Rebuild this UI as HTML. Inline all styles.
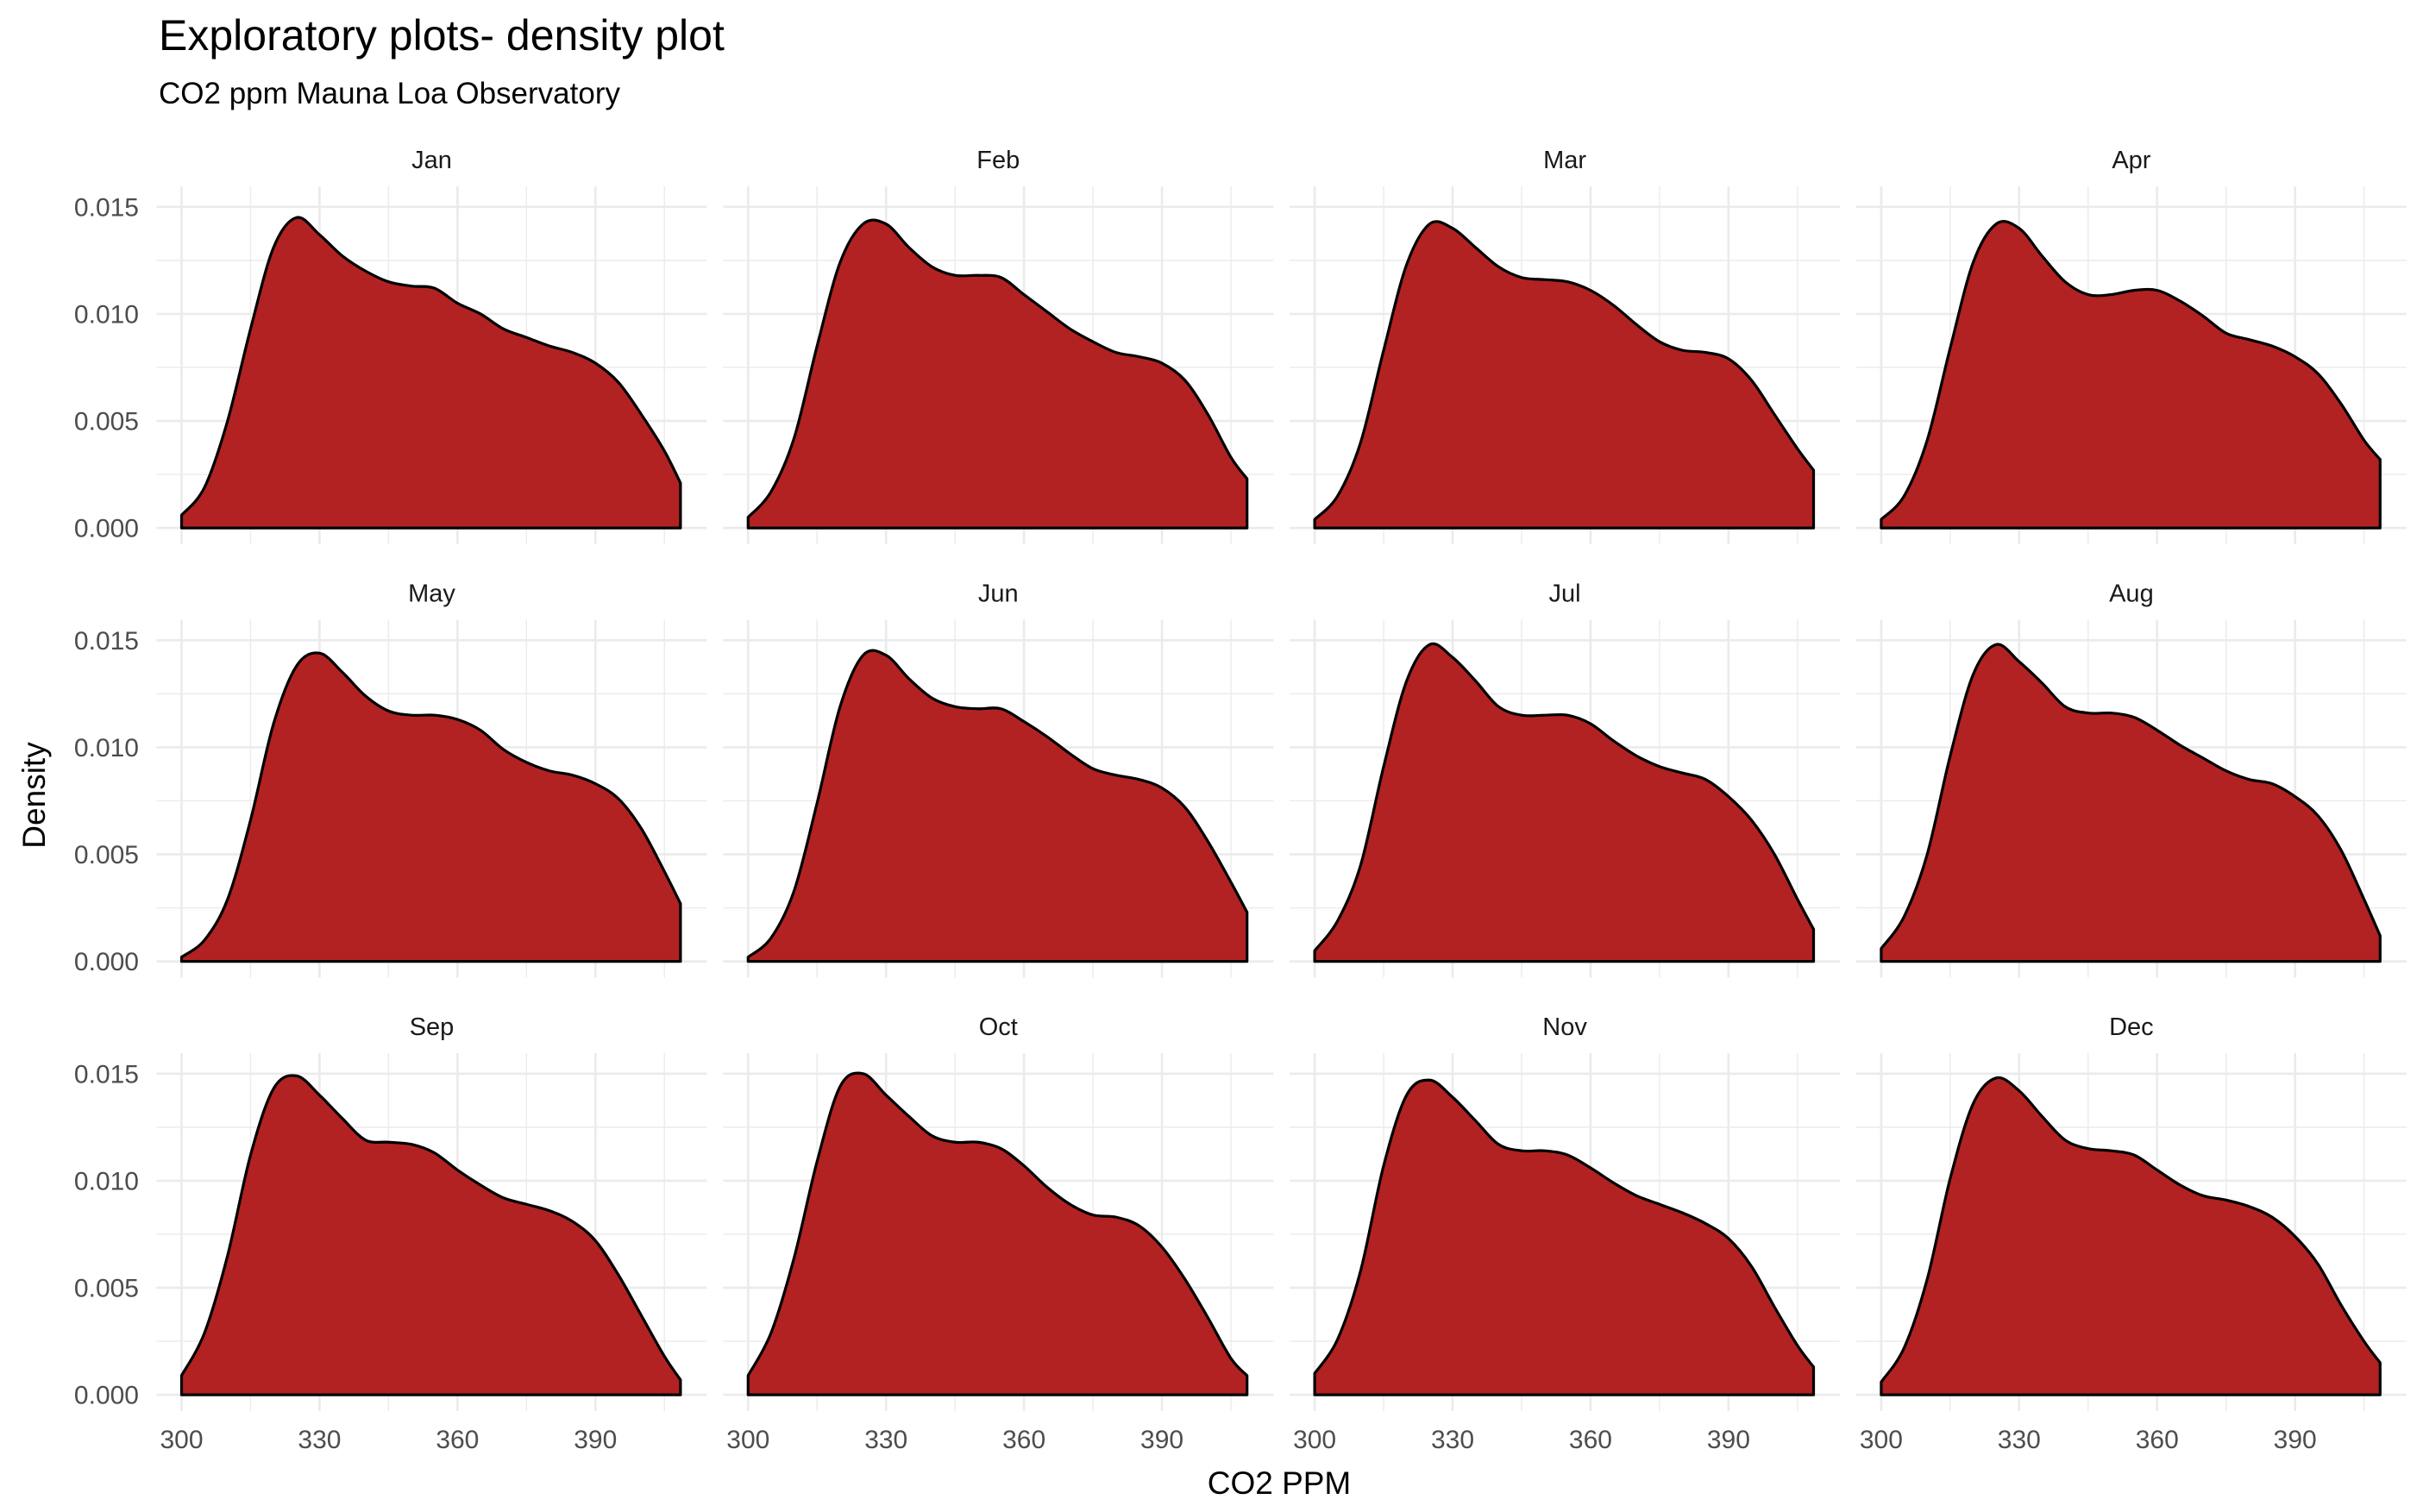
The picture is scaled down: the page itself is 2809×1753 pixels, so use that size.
<!DOCTYPE html>
<html><head><meta charset="utf-8"><title>Exploratory plots- density plot</title>
<style>html,body{margin:0;padding:0;background:#fff;}svg{display:block;font-family:"Liberation Sans",Arial,sans-serif;}</style>
</head><body>
<svg id="chart" xmlns="http://www.w3.org/2000/svg" width="2809" height="1753" viewBox="0 0 2809 1753">
<rect width="2809" height="1753" fill="#fff"/>
<text x="184" y="58" font-size="50" fill="#000">Exploratory plots- density plot</text>
<text x="184" y="120" font-size="35" fill="#000">CO2 ppm Mauna Loa Observatory</text>
<text x="1483" y="1732" font-size="37" text-anchor="middle" fill="#000">CO2 PPM</text>
<text x="0" y="0" font-size="37" text-anchor="middle" fill="#000" transform="translate(52,922) rotate(-90)">Density</text>
<g id="panels"></g>
</svg>
<script>
const months = ["Jan","Feb","Mar","Apr","May","Jun","Jul","Aug","Sep","Oct","Nov","Dec"];
const co2Grid = [300,305,310,315,320,325,330,335,340,345,350,355,360,365,370,375,380,385,390,395,400,405,408.5];
const densJan = [.0006,.0019,.0050,.0093,.0131,.0145,.0137,.0127,.0120,.0115,.0113,.0112,.0105,.0100,.0093,.0089,.0085,.0082,.0077,.0068,.0053,.0036,.0021];
const densFeb = [.0005,.0017,.0042,.0085,.0124,.0142,.0142,.0131,.0122,.0118,.0118,.0117,.0109,.0101,.0093,.0087,.0082,.0080,.0077,.0069,.0053,.0033,.0023];
const densMar = [.0004,.0015,.0040,.0083,.0123,.0142,.0140,.0131,.0122,.0117,.0116,.0115,.0111,.0104,.0095,.0087,.0083,.0082,.0079,.0069,.0053,.0037,.0027];
const densApr = [.0004,.0015,.0041,.0084,.0124,.0142,.0140,.0127,.0115,.0109,.0109,.0111,.0111,.0106,.0099,.0091,.0088,.0085,.0080,.0072,.0058,.0041,.0032];
const densMay = [.0002,.0010,.0029,.0066,.0111,.0138,.0144,.0135,.0124,.0117,.0115,.0115,.0113,.0108,.0099,.0093,.0089,.0087,.0083,.0076,.0062,.0042,.0027];
const densJun = [.0002,.0011,.0033,.0074,.0119,.0143,.0143,.0132,.0123,.0119,.0118,.0118,.0112,.0105,.0097,.0090,.0087,.0085,.0081,.0072,.0056,.0037,.0023];
const densJul = [.0005,.0019,.0045,.0091,.0131,.0148,.0142,.0131,.0119,.0115,.0115,.0115,.0111,.0103,.0096,.0091,.0088,.0085,.0077,.0066,.0050,.0029,.0015];
const densAug = [.0006,.0021,.0050,.0096,.0134,.0148,.0140,.0130,.0119,.0116,.0116,.0114,.0108,.0101,.0095,.0089,.0085,.0083,.0077,.0068,.0052,.0029,.0012];
const densSep = [.0009,.0029,.0065,.0112,.0143,.0149,.0140,.0129,.0119,.0118,.0117,.0113,.0105,.0098,.0092,.0089,.0086,.0081,.0072,.0056,.0037,.0018,.0007];
const densOct = [.0009,.0029,.0064,.0109,.0144,.0150,.0140,.0130,.0121,.0118,.0118,.0115,.0107,.0097,.0089,.0084,.0083,.0079,.0069,.0054,.0036,.0017,.0009];
const densNov = [.0010,.0026,.0058,.0107,.0140,.0147,.0139,.0128,.0117,.0114,.0114,.0112,.0106,.0099,.0093,.0089,.0085,.0080,.0073,.0060,.0041,.0023,.0013];
const densDec = [.0006,.0022,.0054,.0101,.0136,.0148,.0142,.0130,.0119,.0115,.0114,.0112,.0105,.0098,.0093,.0091,.0088,.0083,.0074,.0061,.0042,.0025,.0015];
const xTicks = [300,330,360,390];
const xMinor = [315,345,375,405];
const yTicks = [0,0.005,0.010,0.015];
const yTickLabels = ["0.000","0.005","0.010","0.015"];
const yMinor = [0.0025,0.0075,0.0125];

const series = [densJan,densFeb,densMar,densApr,densMay,densJun,densJul,densAug,densSep,densOct,densNov,densDec];
const NS = "http://www.w3.org/2000/svg";
const X0 = 294.56, X1 = 414.24, Y0 = -0.00076, Y1 = 0.01596;
const PW = 638, COLSTEP = 656.8, LEFT0 = 181.5;
const PH = 415, ROWSTEP = 502.5, TOP0 = 216;
function xScale(c, v){ return LEFT0 + c*COLSTEP + (v - X0)/(X1 - X0)*PW; }
function yScale(r, v){ return TOP0 + r*ROWSTEP + (Y1 - v)/(Y1 - Y0)*PH; }
function mk(tag, attrs){ const e = document.createElementNS(NS, tag); for (const k in attrs) e.setAttribute(k, attrs[k]); return e; }
const root = document.getElementById("panels");

for (let i = 0; i < 12; i++) {
  const c = i % 4, r = Math.floor(i / 4);
  const g = mk("g", {});
  
  
  root.appendChild(g);
  const left = xScale(c, X0), right = xScale(c, X1), top = yScale(r, Y1), bot = yScale(r, Y0);
  yMinor.forEach(v => {
    const l = mk("line", {x1:left, x2:right, y1:yScale(r,v), y2:yScale(r,v), stroke:"#ebebeb", "stroke-width":1.4});
    
    
    g.appendChild(l);
  });
  xMinor.forEach(v => {
    const l = mk("line", {x1:xScale(c,v), x2:xScale(c,v), y1:top, y2:bot, stroke:"#ebebeb", "stroke-width":1.4});
    
    
    g.appendChild(l);
  });
  yTicks.forEach(v => {
    const l = mk("line", {x1:left, x2:right, y1:yScale(r,v), y2:yScale(r,v), stroke:"#ebebeb", "stroke-width":2.7});
    
    
    g.appendChild(l);
  });
  xTicks.forEach(v => {
    const l = mk("line", {x1:xScale(c,v), x2:xScale(c,v), y1:top, y2:bot, stroke:"#ebebeb", "stroke-width":2.7});
    
    
    g.appendChild(l);
  });
  // density area
  const d = series[i];
  const pts = co2Grid.map((x, k) => [xScale(c, x), yScale(r, d[k])]);
  let p = "M" + pts[0][0] + "," + yScale(r, 0) + " L" + pts[0][0] + "," + pts[0][1];
  for (let k = 0; k < pts.length - 1; k++) {
    const p0 = pts[Math.max(0, k-1)], p1 = pts[k], p2 = pts[k+1], p3 = pts[Math.min(pts.length-1, k+2)];
    const c1x = p1[0] + (p2[0]-p0[0])/6, c1y = p1[1] + (p2[1]-p0[1])/6;
    const c2x = p2[0] - (p3[0]-p1[0])/6, c2y = p2[1] - (p3[1]-p1[1])/6;
    p += " C" + c1x + "," + c1y + " " + c2x + "," + c2y + " " + p2[0] + "," + p2[1];
  }
  p += " L" + pts[pts.length-1][0] + "," + yScale(r, 0) + " Z";
  const area = mk("path", {d:p, fill:"#b22222", stroke:"#000", "stroke-width":3.2, "stroke-linejoin":"round"});
  
  
  g.appendChild(area);
  // strip label
  const st = mk("text", {x:(left+right)/2, y:top-21, "font-size":29, "text-anchor":"middle", fill:"#1a1a1a"});
  st.textContent = months[i];
  
  
  g.appendChild(st);
  if (c === 0) {
    yTicks.forEach((v, k) => {
      const t = mk("text", {x:161, y:yScale(r, v)+10.5, "font-size":30, "text-anchor":"end", fill:"#4d4d4d"});
      t.textContent = yTickLabels[k];
      
      
      g.appendChild(t);
    });
  }
  if (r === 2) {
    xTicks.forEach(v => {
      const t = mk("text", {x:xScale(c, v), y:1679, "font-size":30, "text-anchor":"middle", fill:"#4d4d4d"});
      t.textContent = String(v);
      
      
      g.appendChild(t);
    });
  }
}
</script>
</body></html>
